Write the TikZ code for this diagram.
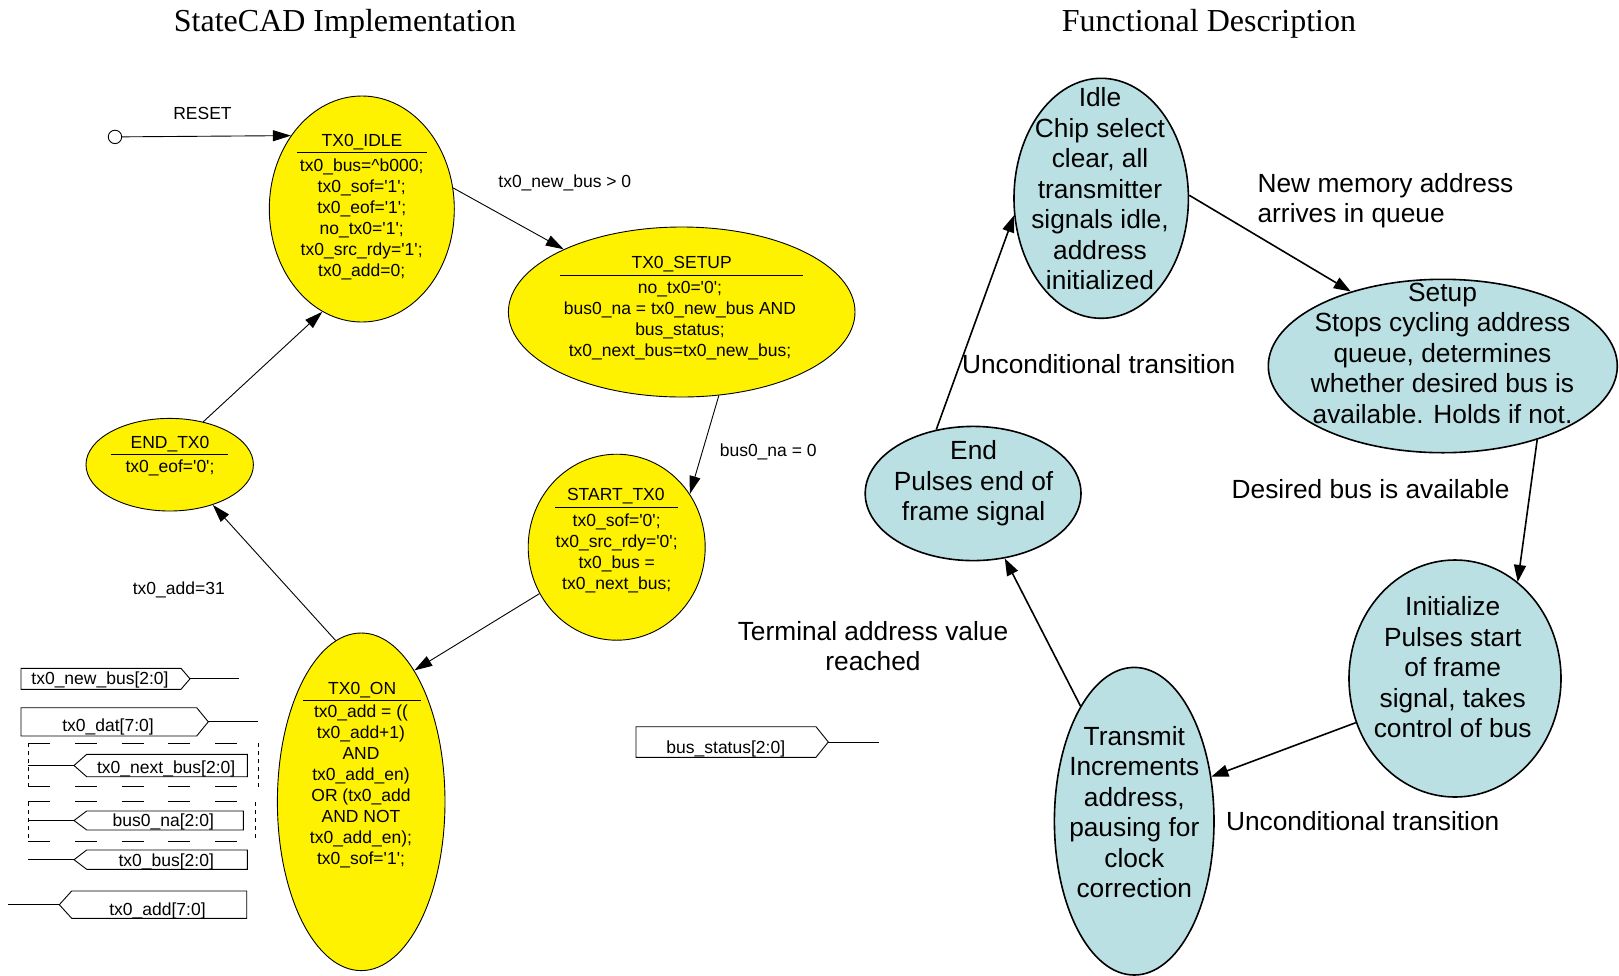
\documentclass[tikz,border=0pt]{standalone}
\usepackage{fontspec}
\setmainfont{Liberation Sans}
\newfontfamily\titlefont{Liberation Serif}
\usetikzlibrary{shapes.geometric,arrows.meta}
\definecolor{fnblue}{RGB}{187,224,227}
\newcommand{\tq}{\textquotesingle}

\tikzset{
  smallfont/.style={font=\fontsize{17.5}{21}\selectfont},
  bigfont/.style={font=\fontsize{26.3}{30.5}\selectfont},
  headfont/.style={font=\titlefont\fontsize{32}{36}\selectfont},
  txt/.style={inner sep=0pt, outer sep=0pt},
  stxt/.style={txt, smallfont, align=center},
  btxt/.style={txt, bigfont, align=center},
  cadstate/.style={ellipse, draw, fill=yellow, line width=0.9pt, inner sep=0pt},
  fnstate/.style={ellipse, draw, fill=fnblue, line width=1.6pt, inner sep=0pt},
  cadarrow/.style={draw, line width=0.9pt, -{Triangle[length=18pt,width=11pt]}},
  fnarrow/.style={draw, line width=1.6pt, -{Triangle[length=17pt,width=12pt]}},
  rulestyle/.style={draw, line width=0.9pt},
  portstyle/.style={draw, line width=0.9pt},
  busdash/.style={draw, line width=0.9pt, dash pattern=on 22pt off 24.7pt},
  busside/.style={draw, line width=0.9pt, dash pattern=on 4pt off 4pt},
}

\begin{document}
\begin{tikzpicture}[x=1pt, y=-1pt]
\useasboundingbox (0,0) rectangle (1619,975);

% ---------- headings ----------
\node[txt, headfont, anchor=base] (headL) at (345,31.7) {StateCAD Implementation};
\node[txt, headfont, anchor=base] (headR) at (1209,31.7) {Functional Description};

% ---------- StateCAD states ----------
\node[cadstate, minimum width=185pt, minimum height=226pt] (idle) at (361.8,209) {};
\node[cadstate, minimum width=346.6pt, minimum height=170pt] (setup) at (681.7,312) {};
\node[cadstate, minimum width=177pt, minimum height=186pt] (start) at (616.7,547.2) {};
\node[cadstate, minimum width=167.6pt, minimum height=337.6pt] (on) at (361.2,801.8) {};
\node[cadstate, minimum width=167.4pt, minimum height=92.6pt] (endtx) at (169.7,464.7) {};

% TX0_IDLE contents
\node[stxt, anchor=base] (idleT) at (362,146.7) {TX0\_IDLE};
\draw[rulestyle] (297,152) -- (426.7,152);
\node[stxt, anchor=north] (idleB) at (361.7,158.4) {tx0\_bus=\textasciicircum b000;\\ tx0\_sof=\tq1\tq;\\ tx0\_eof=\tq1\tq;\\ no\_tx0=\tq1\tq;\\ tx0\_src\_rdy=\tq1\tq;\\ tx0\_add=0;};

% TX0_SETUP contents
\node[stxt, anchor=base] (setupT) at (681.7,268.3) {TX0\_SETUP};
\draw[rulestyle] (560,275) -- (803.3,275);
\node[stxt, anchor=north] (setupB) at (680,281.7) {no\_tx0=\tq0\tq;\\ bus0\_na = tx0\_new\_bus AND\\ bus\_status;\\ tx0\_next\_bus=tx0\_new\_bus;};

% START_TX0 contents
\node[stxt, anchor=base] (startT) at (615.8,500) {START\_TX0};
\draw[rulestyle] (555,507.7) -- (678.3,507.7);
\node[stxt, anchor=north] (startB) at (616.7,513.4) {tx0\_sof=\tq0\tq;\\ tx0\_src\_rdy=\tq0\tq;\\ tx0\_bus =\\ tx0\_next\_bus;};

% TX0_ON contents
\node[stxt, anchor=base] (onT) at (362.2,694) {TX0\_ON};
\draw[rulestyle] (303.3,700) -- (420.7,700);
\node[stxt, anchor=north] (onB) at (361,705.1) {tx0\_add = ((\\ tx0\_add+1)\\ AND\\ tx0\_add\_en)\\ OR (tx0\_add\\ AND NOT\\ tx0\_add\_en);\\ tx0\_sof=\tq1\tq;};

% END_TX0 contents
\node[stxt, anchor=base] (endT) at (170,448.3) {END\_TX0};
\draw[rulestyle] (111,454) -- (228.3,454);
\node[stxt, anchor=base] (endB) at (170,472.7) {tx0\_eof=\tq0\tq;};

% reset entry
\node[circle, draw, line width=0.9pt, minimum size=13.4pt, inner sep=0pt] (reset) at (115,136.9) {};
\node[stxt, anchor=base] (resetL) at (202.5,119.3) {RESET};
\draw[cadarrow] (reset) -- (idle.134.8);

% StateCAD transitions
\draw[cadarrow] (idle.13.4) -- (setup.152.6);
\draw[cadarrow] (setup.-66.7) -- (start.36.8);
\draw[cadarrow] (start.211.7) -- (on.68);
\draw[cadarrow] (on.99.9) -- (endtx.-43.7);
\draw[cadarrow] (endtx.52.2) -- (idle.249);

\node[stxt, anchor=base] (lblNew) at (564.8,187.5) {tx0\_new\_bus > 0};
\node[stxt, anchor=base] (lblNa) at (768.2,456) {bus0\_na = 0};
\node[stxt, anchor=base] (lblAdd) at (178.8,594.3) {tx0\_add=31};

% ---------- port symbols ----------
% inputs
\draw[portstyle] (21,668.3) -- (181,668.3) -- (190,678.8) -- (181,689.3) -- (21,689.3) -- cycle;
\draw[portstyle] (190,678.8) -- (239,678.8);
\node[stxt, anchor=base] (pNewBus) at (100,684) {tx0\_new\_bus[2:0]};

\draw[portstyle] (21,707.7) -- (196.7,707.7) -- (208.3,721.8) -- (196.7,736) -- (21,736) -- cycle;
\draw[portstyle] (208.3,721.8) -- (258.3,721.8);
\node[stxt, anchor=base] (pDat) at (108,731.7) {tx0\_dat[7:0]};

\draw[portstyle] (636,726.7) -- (816,726.7) -- (828.3,742) -- (816,757.3) -- (636,757.3) -- cycle;
\draw[portstyle] (828.3,742) -- (879.3,742);
\node[stxt, anchor=base] (pStatus) at (725.8,753.5) {bus\_status[2:0]};

% registered output: tx0_next_bus
\draw[busdash] (28.3,743.3) -- (258.3,743.3);
\draw[busdash] (28.3,786.7) -- (258.3,786.7);
\draw[busside] (28.3,743.3) -- (28.3,786.7);
\draw[busside] (258.3,743.3) -- (258.3,786.7);
\draw[portstyle] (74,765.5) -- (86.7,754.3) -- (247.3,754.3) -- (247.3,776.7) -- (86.7,776.7) -- cycle;
\draw[portstyle] (28.3,765.5) -- (74,765.5);
\node[stxt, anchor=base] (pNextBus) at (166.2,773.3) {tx0\_next\_bus[2:0]};

% registered output: bus0_na
\draw[busdash] (28.3,801.7) -- (255,801.7);
\draw[busdash] (28.3,841) -- (255,841);
\draw[busside] (28.3,801.7) -- (28.3,841);
\draw[busside] (255,801.7) -- (255,841);
\draw[portstyle] (74,820.5) -- (86.7,811) -- (243.3,811) -- (243.3,830) -- (86.7,830) -- cycle;
\draw[portstyle] (28.3,820.5) -- (74,820.5);
\node[stxt, anchor=base] (pNa) at (163.3,826.7) {bus0\_na[2:0]};

% outputs
\draw[portstyle] (74,859.7) -- (86.7,850) -- (247.3,850) -- (247.3,869.3) -- (86.7,869.3) -- cycle;
\draw[portstyle] (28.3,859.7) -- (74,859.7);
\node[stxt, anchor=base] (pBus) at (166.2,866) {tx0\_bus[2:0]};

\draw[portstyle] (59.3,904.7) -- (71.7,891) -- (246.7,891) -- (246.7,918.3) -- (71.7,918.3) -- cycle;
\draw[portstyle] (8.3,904.7) -- (59.3,904.7);
\node[stxt, anchor=base] (pAdd) at (157.5,915) {tx0\_add[7:0]};

% ---------- functional description ----------
\node[fnstate, minimum width=174.4pt, minimum height=240pt] (fIdle) at (1101.2,198.3) {};
\node[fnstate, minimum width=349pt, minimum height=173.4pt] (fSetup) at (1442.8,366) {};
\node[fnstate, minimum width=212pt, minimum height=237pt] (fInit) at (1455,678.5) {};
\node[fnstate, minimum width=159.6pt, minimum height=307.6pt] (fTx) at (1134.2,821.2) {};
\node[fnstate, minimum width=215.8pt, minimum height=134.2pt] (fEnd) at (973.1,493.5) {};

\node[btxt, anchor=north] (fIdleT) at (1100,87.8) {Idle\\ Chip select\\ clear, all\\ transmitter\\ signals idle,\\ address\\ initialized};
\node[btxt, anchor=north] (fSetupT) at (1442.5,282.8) {Setup\\ Stops cycling address\\ queue, determines\\ whether desired bus is\\ available. Holds if not.};
\node[btxt, anchor=north] (fInitT) at (1452.7,596.6) {Initialize\\ Pulses start\\ of frame\\ signal, takes\\ control of bus};
\node[btxt, anchor=north] (fTxT) at (1134.3,726.1) {Transmit\\ Increments\\ address,\\ pausing for\\ clock\\ correction};
\node[btxt, anchor=north] (fEndT) at (973.6,440.6) {End\\ Pulses end of\\ frame signal};

\draw[fnarrow] (fIdle.2) -- (fSetup.141.2);
\draw[fnarrow] (fSetup.-38.4) -- (fInit.57.2);
\draw[fnarrow] (fInit.204.9) -- (fTx.30.4);
\draw[fnarrow] (fTx.115) -- (fEnd.-64.8);
\draw[fnarrow] (fEnd.120) -- (fIdle.191);

\node[btxt, anchor=north west, align=left] (fLblNew) at (1257.6,173.1) {New memory address\\ arrives in queue};
\node[btxt, anchor=base west] (fLblUp) at (962,373.3) {Unconditional transition};
\node[btxt, anchor=base west] (fLblBus) at (1231.7,498.3) {Desired bus is available};
\node[btxt, anchor=base west] (fLblLow) at (1226,830) {Unconditional transition};
\node[btxt, anchor=north] (fLblTerm) at (873,621.1) {Terminal address value\\ reached};

\end{tikzpicture}
\end{document}
